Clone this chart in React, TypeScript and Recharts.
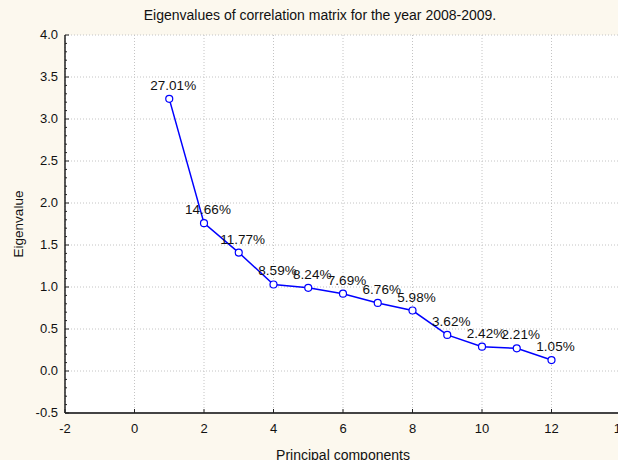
import React from 'react';
import {
  LineChart,
  Line,
  XAxis,
  YAxis,
  CartesianGrid,
  LabelList,
  Label,
} from 'recharts';

const components = [1, 2, 3, 4, 5, 6, 7, 8, 9, 10, 11, 12];
const eigenvalues = [3.24, 1.76, 1.41, 1.03, 0.99, 0.92, 0.81, 0.72, 0.43, 0.29, 0.27, 0.13];
const varianceLabels = [
  '27.01%', '14.66%', '11.77%', '8.59%', '8.24%', '7.69%',
  '6.76%', '5.98%', '3.62%', '2.42%', '2.21%', '1.05%',
];

const xTicks = [-2, 0, 2, 4, 6, 8, 10, 12, 14];
const yMajorTicks = [-0.5, 0, 0.5, 1, 1.5, 2, 2.5, 3, 3.5, 4];
const yMinorTicks = [
  -0.5, -0.4, -0.3, -0.2, -0.1, 0, 0.1, 0.2, 0.3, 0.4, 0.5, 0.6, 0.7, 0.8, 0.9,
  1, 1.1, 1.2, 1.3, 1.4, 1.5, 1.6, 1.7, 1.8, 1.9, 2, 2.1, 2.2, 2.3, 2.4, 2.5,
  2.6, 2.7, 2.8, 2.9, 3, 3.1, 3.2, 3.3, 3.4, 3.5, 3.6, 3.7, 3.8, 3.9, 4,
];

const data = components.map((pc, i) => ({
  pc,
  value: eigenvalues[i],
  pct: varianceLabels[i],
}));

const FONT = '"Liberation Sans", Arial, sans-serif';
const BG = '#fcf8ee';

const XTick = ({ x, y, payload }: any) => (
  <g>
    <line x1={x} y1={y} x2={x} y2={y - 4} stroke="#222" />
    <text x={x} y={y + 20} textAnchor="middle" fontSize={13} fontFamily={FONT} fill="#111">
      {payload.value}
    </text>
  </g>
);

const TopTick = ({ x, y }: any) => (
  <line x1={x} y1={y} x2={x} y2={y + 4} stroke="#222" />
);

const YTick = ({ x, y, payload }: any) => {
  const v = payload.value;
  const major = Math.abs(v * 2 - Math.round(v * 2)) < 1e-6;
  return (
    <g>
      <line x1={x} y1={y} x2={x + (major ? 4 : 2)} y2={y} stroke="#222" />
      {major && (
        <text x={x - 7} y={y + 4} textAnchor="end" fontSize={13} fontFamily={FONT} fill="#111">
          {v.toFixed(1)}
        </text>
      )}
    </g>
  );
};

const PointLabel = ({ x, y, value }: any) => (
  <text x={x + 4} y={y - 9} textAnchor="middle" fontSize={13.5} fontFamily={FONT} fill="#111">
    {value}
  </text>
);

const XTitle = ({ viewBox }: any) => (
  <text
    x={viewBox.x + viewBox.width / 2}
    y={viewBox.y + 47}
    textAnchor="middle"
    fontSize={14}
    fontFamily={FONT}
    fill="#111"
  >
    Principal components
  </text>
);

const YTitle = ({ viewBox }: any) => {
  const cx = 18;
  const cy = viewBox.y + viewBox.height / 2;
  return (
    <text
      x={cx}
      y={cy}
      transform={`rotate(-90 ${cx} ${cy})`}
      textAnchor="middle"
      dominantBaseline="central"
      fontSize={13.5}
      fontFamily={FONT}
      fill="#111"
    >
      Eigenvalue
    </text>
  );
};

export default function App() {
  return (
    <div
      style={{
        position: 'fixed',
        left: 0,
        top: 0,
        width: 618,
        height: 460,
        overflow: 'hidden',
        background: BG,
        fontFamily: FONT,
      }}
    >
      <div
        style={{
          position: 'absolute',
          left: 0,
          width: 640,
          top: 6,
          textAlign: 'center',
          fontSize: 14,
          lineHeight: '18px',
          color: '#111',
        }}
      >
        Eigenvalues of correlation matrix for the year 2008-2009.
      </div>
      <LineChart
        width={640}
        height={460}
        data={data}
        margin={{ top: 35, right: 19, bottom: 17, left: 0 }}
      >
        <CartesianGrid
          fill="#ffffff"
          stroke="#c4c4c4"
          strokeDasharray="1 2"
          horizontalValues={yMajorTicks}
        />
        <XAxis
          dataKey="pc"
          type="number"
          domain={[-2, 14]}
          ticks={xTicks}
          allowDataOverflow
          height={30}
          tickSize={0}
          tickMargin={0}
          tick={<XTick />}
          axisLine={{ stroke: '#444', strokeWidth: 2 }}
          tickLine={false}
        >
          <Label content={<XTitle />} />
        </XAxis>
        <XAxis
          xAxisId="top"
          orientation="top"
          dataKey="pc"
          type="number"
          domain={[-2, 14]}
          ticks={xTicks}
          allowDataOverflow
          height={0}
          tickSize={0}
          tickMargin={0}
          tick={<TopTick />}
          axisLine={{ stroke: '#222', strokeWidth: 1.5 }}
          tickLine={false}
        />
        <YAxis
          type="number"
          domain={[-0.5, 4]}
          ticks={yMinorTicks}
          interval={0}
          allowDataOverflow
          width={65}
          tickSize={0}
          tickMargin={0}
          tick={<YTick />}
          axisLine={{ stroke: '#222', strokeWidth: 1.5 }}
          tickLine={false}
        >
          <Label content={<YTitle />} />
        </YAxis>
        <Line
          type="linear"
          dataKey="value"
          stroke="#0000ff"
          strokeWidth={1.5}
          dot={{ r: 3.5, fill: '#ffffff', stroke: '#0000ff', strokeWidth: 1.2 }}
          isAnimationActive={false}
        >
          <LabelList dataKey="pct" content={<PointLabel />} />
        </Line>
      </LineChart>
    </div>
  );
}
